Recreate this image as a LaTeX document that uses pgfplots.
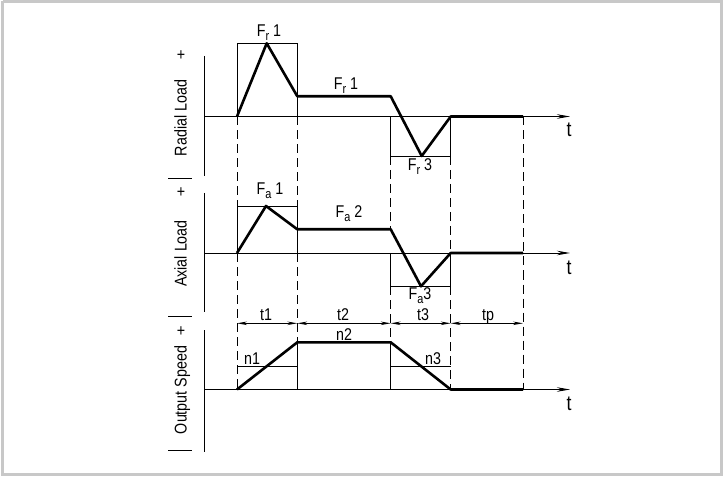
\documentclass[border=0pt]{standalone}
\usepackage{pgfplots}
\pgfplotsset{compat=1.18}
\usepackage{fontspec}
\setmainfont{Liberation Sans}[FakeStretch=0.84]
\usetikzlibrary{arrows.meta}
\definecolor{framegray}{RGB}{200,200,200}
\newcommand{\lbl}{\fontsize{17pt}{19pt}\selectfont}
\newcommand{\tlbl}{\fontsize{21pt}{23pt}\selectfont}
\newcommand{\sub}[1]{\raisebox{-4pt}{\fontsize{13pt}{15pt}\selectfont #1}}
\begin{document}
\begin{tikzpicture}[font=\lbl]
\useasboundingbox (0,0) rectangle (725pt,478pt);
\begin{axis}[at={(0,0)}, anchor=south west,
  width=725pt, height=478pt, scale only axis,
  xmin=0, xmax=725, ymin=0, ymax=478, y dir=reverse,
  hide axis, clip=false,
  every node/.append style={font=\lbl},
  ln/.style={black, line width=0.9pt},
  bold/.style={black, line width=2.6pt, line join=round},
  dsh/.style={black, line width=0.9pt, dash pattern=on 9pt off 5pt},
  tax/.style={black, line width=0.9pt, -{Stealth[length=13pt,width=4.5pt]}},
  dim/.style={black, line width=0.9pt, {Stealth[length=10pt,width=3.5pt]}-{Stealth[length=10pt,width=3.5pt]}},
]
% outer frame
\addplot[framegray, line width=3pt] coordinates {(2.5,1.5) (721.5,1.5) (721.5,474.5) (2.5,474.5) (2.5,1.5)};

% ===== axes =====
\addplot[ln] coordinates {(204,56) (204,176)};
\addplot[ln] coordinates {(204,193) (204,312)};
\addplot[ln] coordinates {(204,330) (204,452)};
\addplot[tax] coordinates {(204,116.5) (570,116.5)};
\addplot[tax] coordinates {(204,253) (570,253)};
\addplot[tax] coordinates {(204,389.5) (570,389.5)};
% separators
\addplot[ln] coordinates {(168,178) (192,178)};
\addplot[ln] coordinates {(168,316.7) (192,316.7)};
\addplot[ln] coordinates {(168,450) (192,450)};

% ===== radial load =====
\addplot[ln] coordinates {(237,116.5) (237,43.3) (297.3,43.3) (297.3,116.5)};
\addplot[ln] coordinates {(390.7,116.5) (390.7,156) (450.7,156) (450.7,116.5)};
\addplot[bold] coordinates {(237,116.5) (266.7,43.3) (297.3,96.3) (390.7,96.3) (421.7,156) (450.7,116.5) (523,116.5)};

% ===== axial load =====
\addplot[ln] coordinates {(237,253) (237,206) (297.3,206) (297.3,253)};
\addplot[ln] coordinates {(390.7,253) (390.7,286.3) (450.7,286.3) (450.7,253)};
\addplot[bold] coordinates {(237,253) (266,206) (297.3,229.3) (390.7,229.3) (421,286.3) (450.7,253) (523,253)};

% ===== output speed =====
\addplot[ln] coordinates {(237,366) (297.3,366)};
\addplot[ln] coordinates {(297.3,342.3) (297.3,389.5)};
\addplot[ln] coordinates {(390.7,342.3) (390.7,389.5)};
\addplot[ln] coordinates {(390.7,366) (450.7,366)};
\addplot[bold] coordinates {(237,389.5) (297.3,342.3) (390.7,342.3) (450.7,389.5) (523,389.5)};

% ===== dashed guides =====
\addplot[dsh] coordinates {(237,116.5) (237,206)};
\addplot[dsh] coordinates {(237,253) (237,389.5)};
\addplot[dsh] coordinates {(297.3,116.5) (297.3,206)};
\addplot[dsh] coordinates {(297.3,253) (297.3,342.3)};
\addplot[dsh] coordinates {(390.7,156) (390.7,229.3)};
\addplot[dsh] coordinates {(390.7,286.3) (390.7,342.3)};
\addplot[dsh] coordinates {(450.7,156) (450.7,253)};
\addplot[dsh] coordinates {(450.7,286.3) (450.7,389.5)};
\addplot[dsh] coordinates {(523,116.5) (523,389.5)};

% ===== dimension line =====
\addplot[dim] coordinates {(237,323.3) (297.3,323.3)};
\addplot[dim] coordinates {(297.3,323.3) (390.7,323.3)};
\addplot[dim] coordinates {(390.7,323.3) (450.7,323.3)};
\addplot[dim] coordinates {(450.7,323.3) (523,323.3)};

% ===== labels =====
\node[anchor=base] at (axis cs:269,37) {\lbl F\sub{r} 1};
\node[anchor=base] at (axis cs:346,90) {\lbl F\sub{r} 1};
\node[anchor=base] at (axis cs:420,171) {\lbl F\sub{r} 3};
\node[anchor=base] at (axis cs:270,195) {\lbl F\sub{a} 1};
\node[anchor=base] at (axis cs:349,218) {\lbl F\sub{a} 2};
\node[anchor=base] at (axis cs:420,299) {\lbl F\sub{a}3};
\node[anchor=base] at (axis cs:266,320) {\lbl t1};
\node[anchor=base] at (axis cs:343,320) {\lbl t2};
\node[anchor=base] at (axis cs:423,320) {\lbl t3};
\node[anchor=base] at (axis cs:488,320) {\lbl tp};
\node[anchor=base] at (axis cs:252,364) {\lbl n1};
\node[anchor=base] at (axis cs:344,340) {\lbl n2};
\node[anchor=base] at (axis cs:433,364) {\lbl n3};
\node[anchor=base] at (axis cs:569,137) {\tlbl t};
\node[anchor=base] at (axis cs:569,275) {\tlbl t};
\node[anchor=base] at (axis cs:569,410) {\tlbl t};
% y labels
\node[rotate=90, anchor=base] at (axis cs:186.5,118) {\lbl Radial Load};
\node[rotate=90, anchor=base] at (axis cs:186.5,253.5) {\lbl Axial Load};
\node[rotate=90, anchor=base] at (axis cs:186.5,390) {\lbl Output Speed};
\node at (axis cs:181,56) {\lbl +};
\node at (axis cs:181,193) {\lbl +};
\node at (axis cs:181,331.5) {\lbl +};
\end{axis}
\end{tikzpicture}
\end{document}
